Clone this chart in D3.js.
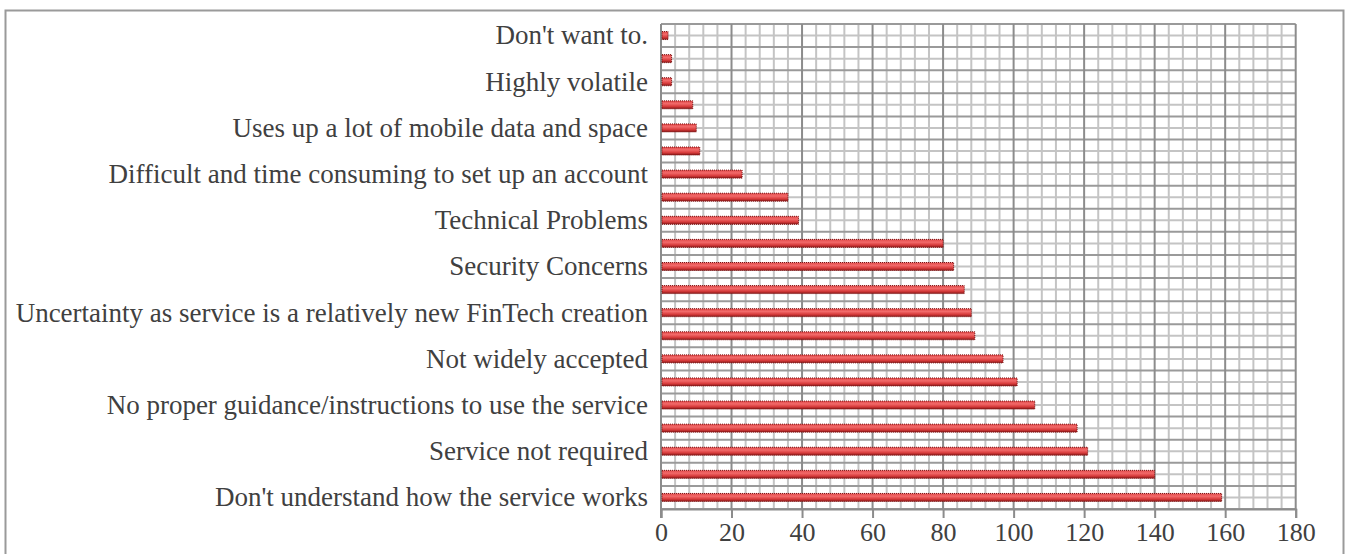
<!DOCTYPE html>
<html><head><meta charset="utf-8">
<script src="https://cdn.jsdelivr.net/npm/d3@7"></script>
<style>html,body{margin:0;padding:0;background:#fff;} svg{display:block;} text{font-family:"Liberation Serif", serif;}</style>
</head><body>
<svg id="chart" width="1346" height="554"></svg>
<script>
const categories = [
  "Don't want to.", "", "Highly volatile", "", "Uses up a lot of mobile data and space", "",
  "Difficult and time consuming to set up an account", "", "Technical Problems", "",
  "Security Concerns", "", "Uncertainty as service is a relatively new FinTech creation", "",
  "Not widely accepted", "", "No proper guidance/instructions to use the service", "",
  "Service not required", "", "Don't understand how the service works"
];
const values = [2, 3, 3, 9, 10, 11, 23, 36, 39, 80, 83, 86, 88, 89, 97, 101, 106, 118, 121, 140, 159];
const xTicks = [0, 20, 40, 60, 80, 100, 120, 140, 160, 180];

const svg = d3.select("#chart");
const m = {left: 661, right: 1295.7, top: 24, bottom: 509};

svg.append("rect").attr("x", 5.5).attr("y", 10.5).attr("width", 1338).attr("height", 560)
  .attr("fill", "none").attr("stroke", "#9a9a9a").attr("stroke-width", 2);

const x = d3.scaleLinear().domain([0, 180]).range([m.left, m.right]);
const y = d3.scaleBand().domain(d3.range(categories.length)).range([m.top, m.bottom]).padding(0);

const defs = svg.append("defs");
const g = defs.append("linearGradient").attr("id", "barg").attr("x1", 0).attr("y1", 0).attr("x2", 0).attr("y2", 1);
g.append("stop").attr("offset", "0%").attr("stop-color", "#e04848");
g.append("stop").attr("offset", "35%").attr("stop-color", "#f26a6a");
g.append("stop").attr("offset", "70%").attr("stop-color", "#d83c3c");
g.append("stop").attr("offset", "100%").attr("stop-color", "#8a1818");

const grid = svg.append("g");
grid.selectAll(".vmin").data(d3.range(0, 181, 4).filter(v => v % 20 !== 0)).join("line")
  .attr("x1", d => x(d)).attr("x2", d => x(d)).attr("y1", m.top).attr("y2", m.bottom)
  .attr("stroke", "#c4c4c4").attr("stroke-width", 2);
grid.selectAll(".hmin").data(d3.range(categories.length)).join("line")
  .attr("x1", m.left).attr("x2", m.right)
  .attr("y1", d => y(d) + y.bandwidth() / 2).attr("y2", d => y(d) + y.bandwidth() / 2)
  .attr("stroke", "#c4c4c4").attr("stroke-width", 2);
grid.selectAll(".hmaj").data(d3.range(categories.length + 1)).join("line")
  .attr("x1", m.left).attr("x2", m.right)
  .attr("y1", d => m.top + d * y.step()).attr("y2", d => m.top + d * y.step())
  .attr("stroke", "#9a9a9a").attr("stroke-width", 2);
grid.selectAll(".vmaj").data(xTicks.slice(1)).join("line")
  .attr("x1", d => x(d)).attr("x2", d => x(d)).attr("y1", m.top).attr("y2", m.bottom)
  .attr("stroke", "#8c8c8c").attr("stroke-width", 2);

const xAxis = d3.axisBottom(x).tickValues(xTicks).tickSize(9).tickPadding(5).tickFormat(d3.format("d"));
const ax = svg.append("g").attr("transform", `translate(0,${m.bottom})`).call(xAxis);
ax.attr("font-family", null);
ax.select(".domain").attr("stroke", "#8c8c8c").attr("stroke-width", 2);
ax.selectAll(".tick line").attr("stroke", "#8c8c8c").attr("stroke-width", 2);
ax.selectAll(".tick text").attr("font-size", 26).attr("fill", "#404040");

svg.append("line").attr("x1", m.left).attr("x2", m.left).attr("y1", m.top).attr("y2", m.bottom + 9)
  .attr("stroke", "#8c8c8c").attr("stroke-width", 2);

const bh = 8;
svg.append("g").selectAll("rect").data(values).join("rect")
  .attr("x", x(0) + 1)
  .attr("y", (d, i) => y(i) + y.bandwidth() / 2 - bh / 2)
  .attr("width", d => x(d) - x(0) - 1)
  .attr("height", bh)
  .attr("fill", "url(#barg)")
  .attr("stroke", "#7a1010").attr("stroke-width", 1).attr("stroke-dasharray", "1,1");

svg.append("g").selectAll("text").data(categories).join("text")
  .attr("x", 648)
  .attr("y", (d, i) => y(i) + y.bandwidth() / 2)
  .attr("dy", "0.33em")
  .attr("text-anchor", "end")
  .attr("font-size", 27).attr("fill", "#404040")
  .text(d => d);
</script>
</body></html>
